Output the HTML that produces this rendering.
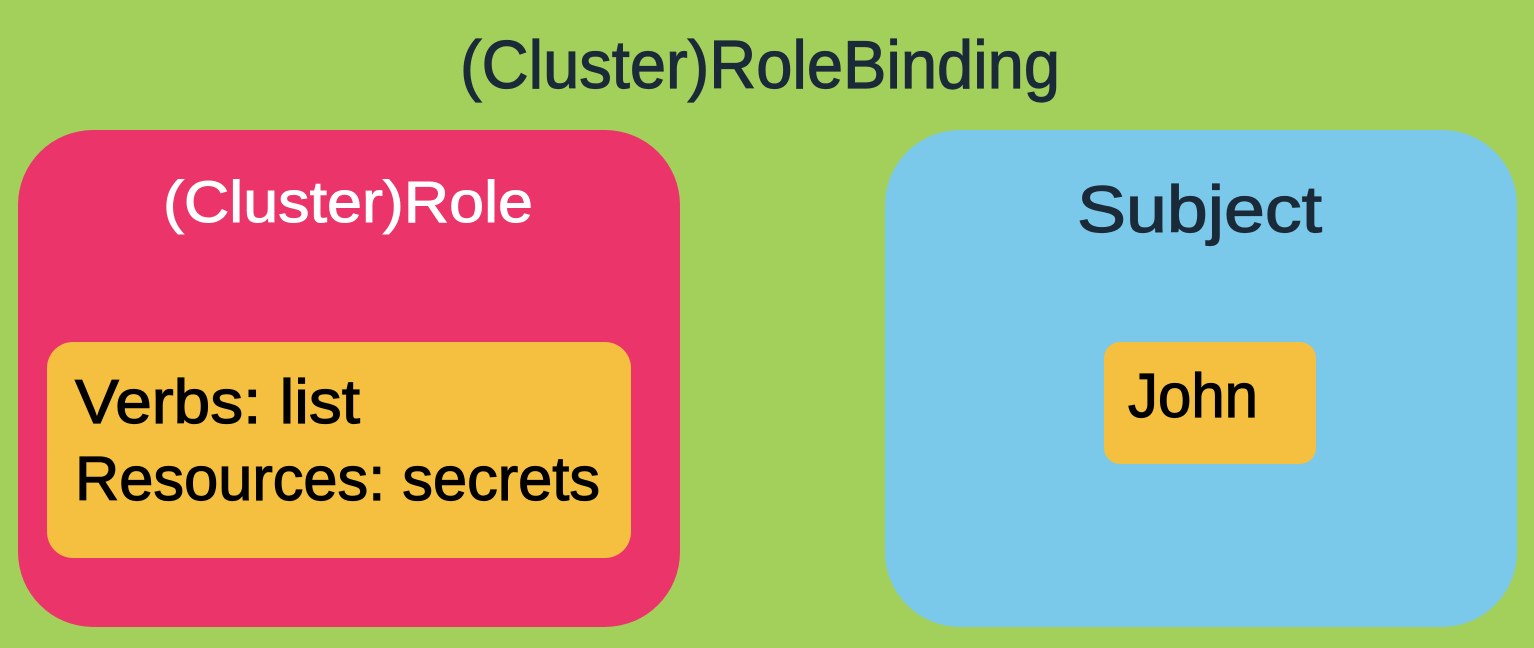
<!DOCTYPE html>
<html><head><meta charset="utf-8"><style>html,body{margin:0;padding:0;background:#a3cf5b;}svg{display:block}</style></head>
<body>
<svg width="1534" height="648" viewBox="0 0 1534 648" xmlns="http://www.w3.org/2000/svg" font-family="'Liberation Sans', sans-serif">
<rect x="0" y="0" width="1534" height="648" fill="#a3cf5b"/>
<text x="460" y="88" font-size="68" fill="#1b2a38" stroke="#1b2a38" stroke-width="1.2" textLength="600" lengthAdjust="spacingAndGlyphs">(Cluster)RoleBinding</text>
<rect x="18" y="130" width="662" height="497" rx="75" fill="#eb346a"/>
<text x="163" y="222" font-size="58" fill="#ffffff" stroke="#ffffff" stroke-width="1" textLength="370" lengthAdjust="spacingAndGlyphs">(Cluster)Role</text>
<rect x="47" y="342" width="584" height="216" rx="26" fill="#f5bf40"/>
<text x="75" y="423" font-size="62" fill="#000" stroke="#000" stroke-width="1.2" textLength="285" lengthAdjust="spacingAndGlyphs">Verbs: list</text>
<text x="75" y="500" font-size="62" fill="#000" stroke="#000" stroke-width="1.2" textLength="525" lengthAdjust="spacingAndGlyphs">Resources: secrets</text>
<rect x="885" y="130" width="632" height="497" rx="75" fill="#7ac8ea"/>
<text x="1077" y="232" font-size="66" fill="#1b2a38" stroke="#1b2a38" stroke-width="1.2" textLength="245" lengthAdjust="spacingAndGlyphs">Subject</text>
<rect x="1104" y="342" width="212" height="122" rx="16" fill="#f5bf40"/>
<text x="1128" y="417" font-size="62" fill="#000" stroke="#000" stroke-width="1.2" textLength="130" lengthAdjust="spacingAndGlyphs">John</text>
</svg>
</body></html>
